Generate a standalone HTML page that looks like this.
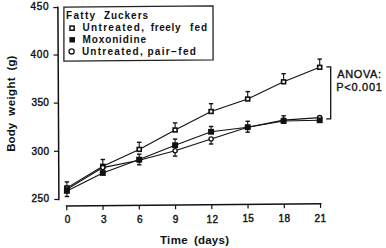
<!DOCTYPE html>
<html><head><meta charset="utf-8"><style>
html,body{margin:0;padding:0;background:#fff;}
body{width:386px;height:248px;overflow:hidden;}
svg{display:block;font-family:"Liberation Sans", sans-serif;fill:#111;}
</style></head><body>
<svg width="386" height="248" viewBox="0 0 386 248">
<text x="30.40" y="10.30" font-size="10" font-weight="normal" letter-spacing="0.70" stroke="#111" stroke-width="0.4">450</text>
<text x="30.40" y="58.20" font-size="10" font-weight="normal" letter-spacing="0.70" stroke="#111" stroke-width="0.4">400</text>
<text x="31.60" y="106.10" font-size="10" font-weight="normal" letter-spacing="0.30" stroke="#111" stroke-width="0.4">350</text>
<text x="31.60" y="154.70" font-size="10" font-weight="normal" letter-spacing="0.45" stroke="#111" stroke-width="0.4">300</text>
<text x="31.60" y="202.30" font-size="10" font-weight="normal" letter-spacing="0.45" stroke="#111" stroke-width="0.4">250</text>
<text x="64.75" y="223.30" font-size="10" font-weight="normal" letter-spacing="0.00" stroke="#111" stroke-width="0.4">0</text>
<text x="100.90" y="223.30" font-size="10" font-weight="normal" letter-spacing="0.00" stroke="#111" stroke-width="0.4">3</text>
<text x="137.05" y="223.10" font-size="10" font-weight="normal" letter-spacing="0.00" stroke="#111" stroke-width="0.4">6</text>
<text x="172.85" y="223.00" font-size="10" font-weight="normal" letter-spacing="0.00" stroke="#111" stroke-width="0.4">9</text>
<text x="206.55" y="222.70" font-size="10" font-weight="normal" letter-spacing="0.40" stroke="#111" stroke-width="0.4">12</text>
<text x="242.40" y="222.20" font-size="10" font-weight="normal" letter-spacing="0.40" stroke="#111" stroke-width="0.4">15</text>
<text x="278.55" y="221.80" font-size="10" font-weight="normal" letter-spacing="0.40" stroke="#111" stroke-width="0.4">18</text>
<text x="314.45" y="221.70" font-size="10" font-weight="normal" letter-spacing="0.40" stroke="#111" stroke-width="0.4">21</text>
<text x="159.90" y="243.90" font-size="11.5" font-weight="bold" letter-spacing="0.40" >Time</text>
<text x="193.90" y="243.90" font-size="11.5" font-weight="bold" letter-spacing="0.24" >(days)</text>
<text transform="translate(14.80,151.70) rotate(-90)" font-size="11.5" font-weight="bold" letter-spacing="-0.00" >Body</text>
<text transform="translate(14.80,115.70) rotate(-90)" font-size="11.5" font-weight="bold" letter-spacing="0.38" >weight</text>
<text transform="translate(14.80,70.50) rotate(-90)" font-size="11.5" font-weight="bold" letter-spacing="0.10" >(g)</text>
<text x="66.10" y="18.90" font-size="10" font-weight="bold" letter-spacing="1.28" >Fatty</text>
<text x="103.90" y="18.90" font-size="10" font-weight="bold" letter-spacing="0.97" >Zuckers</text>
<text x="82.50" y="31.30" font-size="10" font-weight="bold" letter-spacing="1.33" >Untreated,</text>
<text x="150.70" y="31.30" font-size="10" font-weight="bold" letter-spacing="0.62" >freely</text>
<text x="190.10" y="31.30" font-size="10" font-weight="bold" letter-spacing="1.00" >fed</text>
<text x="82.50" y="42.90" font-size="10" font-weight="bold" letter-spacing="0.88" >Moxonidine</text>
<text x="81.90" y="54.70" font-size="10" font-weight="bold" letter-spacing="1.26" >Untreated,</text>
<text x="147.40" y="54.70" font-size="10" font-weight="bold" letter-spacing="1.33" >pair−fed</text>
<text x="337.20" y="77.90" font-size="11" font-weight="normal" letter-spacing="0.62" stroke="#111" stroke-width="0.35">ANOVA:</text>
<text x="336.20" y="90.90" font-size="11" font-weight="normal" letter-spacing="0.73" stroke="#111" stroke-width="0.35">P&lt;0.001</text>
<line x1="57.90" y1="6.60" x2="58.90" y2="200.20" stroke="#111" stroke-width="1.5"/>
<line x1="53.30" y1="7.60" x2="57.90" y2="7.60" stroke="#111" stroke-width="1.2"/>
<line x1="53.55" y1="55.00" x2="58.15" y2="55.00" stroke="#111" stroke-width="1.2"/>
<line x1="53.80" y1="103.10" x2="58.40" y2="103.10" stroke="#111" stroke-width="1.2"/>
<line x1="54.05" y1="151.30" x2="58.65" y2="151.30" stroke="#111" stroke-width="1.2"/>
<line x1="54.30" y1="199.50" x2="58.90" y2="199.50" stroke="#111" stroke-width="1.2"/>
<line x1="65.80" y1="206.10" x2="321.30" y2="203.70" stroke="#111" stroke-width="1.5"/>
<line x1="66.80" y1="206.10" x2="66.80" y2="210.30" stroke="#111" stroke-width="1.2"/>
<line x1="103.05" y1="205.75" x2="103.05" y2="209.95" stroke="#111" stroke-width="1.2"/>
<line x1="139.30" y1="205.41" x2="139.30" y2="209.61" stroke="#111" stroke-width="1.2"/>
<line x1="175.55" y1="205.07" x2="175.55" y2="209.27" stroke="#111" stroke-width="1.2"/>
<line x1="211.80" y1="204.73" x2="211.80" y2="208.93" stroke="#111" stroke-width="1.2"/>
<line x1="248.05" y1="204.39" x2="248.05" y2="208.59" stroke="#111" stroke-width="1.2"/>
<line x1="284.30" y1="204.04" x2="284.30" y2="208.24" stroke="#111" stroke-width="1.2"/>
<line x1="320.55" y1="203.70" x2="320.55" y2="207.90" stroke="#111" stroke-width="1.2"/>
<polygon points="63.9,7.1 213,5.8 213.1,59.9 63.9,61.1" fill="none" stroke="#222" stroke-width="1.3"/>
<rect x="69.95" y="26.05" width="4.2" height="4.2" fill="#fff" stroke="#111" stroke-width="1.5"/>
<rect x="69.4" y="37.1" width="5.6" height="5.4" fill="#111"/>
<circle cx="71.6" cy="51.4" r="2.6" fill="#fff" stroke="#111" stroke-width="1.3"/>
<polyline points="66.90,187.90 102.80,166.30 139.20,149.40 175.10,130.00 211.10,111.50 247.70,99.00 283.60,81.80 319.70,67.30" fill="none" stroke="#111" stroke-width="1.1"/>
<polyline points="66.90,190.90 102.80,173.00 139.20,159.60 175.10,145.20 211.10,131.80 247.70,127.20 283.60,121.00 319.70,120.30" fill="none" stroke="#111" stroke-width="1.1"/>
<polyline points="66.90,189.30 102.80,167.60 139.20,160.30 175.10,150.70 211.10,139.00 247.70,127.20 283.60,120.10 319.70,117.60" fill="none" stroke="#111" stroke-width="1.1"/>
<line x1="66.90" y1="187.90" x2="66.90" y2="181.90" stroke="#111" stroke-width="1.1"/>
<line x1="64.70" y1="181.90" x2="69.10" y2="181.90" stroke="#111" stroke-width="1.4"/>
<line x1="102.80" y1="166.30" x2="102.80" y2="159.50" stroke="#111" stroke-width="1.1"/>
<line x1="100.60" y1="159.50" x2="105.00" y2="159.50" stroke="#111" stroke-width="1.4"/>
<line x1="139.20" y1="149.40" x2="139.20" y2="142.30" stroke="#111" stroke-width="1.1"/>
<line x1="137.00" y1="142.30" x2="141.40" y2="142.30" stroke="#111" stroke-width="1.4"/>
<line x1="175.10" y1="130.00" x2="175.10" y2="122.90" stroke="#111" stroke-width="1.1"/>
<line x1="172.90" y1="122.90" x2="177.30" y2="122.90" stroke="#111" stroke-width="1.4"/>
<line x1="211.10" y1="111.50" x2="211.10" y2="103.70" stroke="#111" stroke-width="1.1"/>
<line x1="208.90" y1="103.70" x2="213.30" y2="103.70" stroke="#111" stroke-width="1.4"/>
<line x1="247.70" y1="99.00" x2="247.70" y2="91.60" stroke="#111" stroke-width="1.1"/>
<line x1="245.50" y1="91.60" x2="249.90" y2="91.60" stroke="#111" stroke-width="1.4"/>
<line x1="283.60" y1="81.80" x2="283.60" y2="73.70" stroke="#111" stroke-width="1.1"/>
<line x1="281.40" y1="73.70" x2="285.80" y2="73.70" stroke="#111" stroke-width="1.4"/>
<line x1="319.70" y1="67.30" x2="319.70" y2="59.10" stroke="#111" stroke-width="1.1"/>
<line x1="317.50" y1="59.10" x2="321.90" y2="59.10" stroke="#111" stroke-width="1.4"/>
<line x1="66.90" y1="190.90" x2="66.90" y2="186.90" stroke="#111" stroke-width="1.1"/>
<line x1="64.70" y1="186.90" x2="69.10" y2="186.90" stroke="#111" stroke-width="1.4"/>
<line x1="102.80" y1="173.00" x2="102.80" y2="169.00" stroke="#111" stroke-width="1.1"/>
<line x1="100.60" y1="169.00" x2="105.00" y2="169.00" stroke="#111" stroke-width="1.4"/>
<line x1="139.20" y1="159.60" x2="139.20" y2="154.20" stroke="#111" stroke-width="1.1"/>
<line x1="137.00" y1="154.20" x2="141.40" y2="154.20" stroke="#111" stroke-width="1.4"/>
<line x1="175.10" y1="145.20" x2="175.10" y2="139.10" stroke="#111" stroke-width="1.1"/>
<line x1="172.90" y1="139.10" x2="177.30" y2="139.10" stroke="#111" stroke-width="1.4"/>
<line x1="211.10" y1="131.80" x2="211.10" y2="126.50" stroke="#111" stroke-width="1.1"/>
<line x1="208.90" y1="126.50" x2="213.30" y2="126.50" stroke="#111" stroke-width="1.4"/>
<line x1="247.70" y1="127.20" x2="247.70" y2="121.30" stroke="#111" stroke-width="1.1"/>
<line x1="245.50" y1="121.30" x2="249.90" y2="121.30" stroke="#111" stroke-width="1.4"/>
<line x1="283.60" y1="121.00" x2="283.60" y2="115.80" stroke="#111" stroke-width="1.1"/>
<line x1="281.40" y1="115.80" x2="285.80" y2="115.80" stroke="#111" stroke-width="1.4"/>
<line x1="319.70" y1="120.30" x2="319.70" y2="116.30" stroke="#111" stroke-width="1.1"/>
<line x1="317.50" y1="116.30" x2="321.90" y2="116.30" stroke="#111" stroke-width="1.4"/>
<line x1="66.90" y1="189.30" x2="66.90" y2="196.50" stroke="#111" stroke-width="1.1"/>
<line x1="64.70" y1="196.50" x2="69.10" y2="196.50" stroke="#111" stroke-width="1.4"/>
<line x1="102.80" y1="167.60" x2="102.80" y2="173.60" stroke="#111" stroke-width="1.1"/>
<line x1="100.60" y1="173.60" x2="105.00" y2="173.60" stroke="#111" stroke-width="1.4"/>
<line x1="139.20" y1="160.30" x2="139.20" y2="164.80" stroke="#111" stroke-width="1.1"/>
<line x1="137.00" y1="164.80" x2="141.40" y2="164.80" stroke="#111" stroke-width="1.4"/>
<line x1="175.10" y1="150.70" x2="175.10" y2="156.10" stroke="#111" stroke-width="1.1"/>
<line x1="172.90" y1="156.10" x2="177.30" y2="156.10" stroke="#111" stroke-width="1.4"/>
<line x1="211.10" y1="139.00" x2="211.10" y2="144.00" stroke="#111" stroke-width="1.1"/>
<line x1="208.90" y1="144.00" x2="213.30" y2="144.00" stroke="#111" stroke-width="1.4"/>
<line x1="247.70" y1="127.20" x2="247.70" y2="132.20" stroke="#111" stroke-width="1.1"/>
<line x1="245.50" y1="132.20" x2="249.90" y2="132.20" stroke="#111" stroke-width="1.4"/>
<line x1="283.60" y1="120.10" x2="283.60" y2="123.10" stroke="#111" stroke-width="1.1"/>
<line x1="281.40" y1="123.10" x2="285.80" y2="123.10" stroke="#111" stroke-width="1.4"/>
<line x1="319.70" y1="117.60" x2="319.70" y2="120.60" stroke="#111" stroke-width="1.1"/>
<line x1="317.50" y1="120.60" x2="321.90" y2="120.60" stroke="#111" stroke-width="1.4"/>
<rect x="64.90" y="186.00" width="4.0" height="3.8" fill="#fff" stroke="#111" stroke-width="1.6"/>
<rect x="100.80" y="164.40" width="4.0" height="3.8" fill="#fff" stroke="#111" stroke-width="1.6"/>
<rect x="137.20" y="147.50" width="4.0" height="3.8" fill="#fff" stroke="#111" stroke-width="1.6"/>
<rect x="173.10" y="128.10" width="4.0" height="3.8" fill="#fff" stroke="#111" stroke-width="1.6"/>
<rect x="209.10" y="109.60" width="4.0" height="3.8" fill="#fff" stroke="#111" stroke-width="1.6"/>
<rect x="245.70" y="97.10" width="4.0" height="3.8" fill="#fff" stroke="#111" stroke-width="1.6"/>
<rect x="281.60" y="79.90" width="4.0" height="3.8" fill="#fff" stroke="#111" stroke-width="1.6"/>
<rect x="317.70" y="65.40" width="4.0" height="3.8" fill="#fff" stroke="#111" stroke-width="1.6"/>
<circle cx="66.90" cy="189.30" r="2.1" fill="#fff" stroke="#111" stroke-width="1.3"/>
<circle cx="102.80" cy="167.60" r="2.1" fill="#fff" stroke="#111" stroke-width="1.3"/>
<circle cx="139.20" cy="160.30" r="2.1" fill="#fff" stroke="#111" stroke-width="1.3"/>
<circle cx="175.10" cy="150.70" r="2.1" fill="#fff" stroke="#111" stroke-width="1.3"/>
<circle cx="211.10" cy="139.00" r="2.1" fill="#fff" stroke="#111" stroke-width="1.3"/>
<circle cx="247.70" cy="127.20" r="2.1" fill="#fff" stroke="#111" stroke-width="1.3"/>
<circle cx="283.60" cy="120.10" r="2.1" fill="#fff" stroke="#111" stroke-width="1.3"/>
<circle cx="319.70" cy="117.60" r="2.1" fill="#fff" stroke="#111" stroke-width="1.3"/>
<rect x="63.90" y="188.00" width="6.0" height="5.8" fill="#111"/>
<rect x="99.80" y="170.10" width="6.0" height="5.8" fill="#111"/>
<rect x="136.20" y="156.70" width="6.0" height="5.8" fill="#111"/>
<rect x="172.10" y="142.30" width="6.0" height="5.8" fill="#111"/>
<rect x="208.10" y="128.90" width="6.0" height="5.8" fill="#111"/>
<rect x="244.70" y="124.30" width="6.0" height="5.8" fill="#111"/>
<rect x="280.60" y="118.10" width="6.0" height="5.8" fill="#111"/>
<rect x="316.70" y="117.40" width="6.0" height="5.8" fill="#111"/>
<polyline points="326.4,66.9 330.7,66.9 330.7,118.8 326.2,118.8" fill="none" stroke="#111" stroke-width="1.3"/>
</svg>
</body></html>
